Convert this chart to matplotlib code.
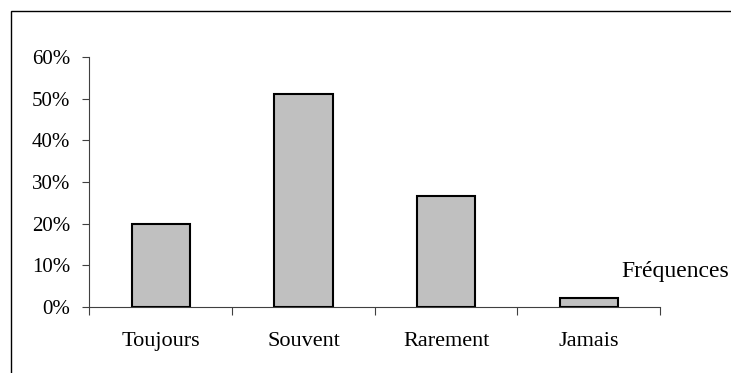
import matplotlib
matplotlib.use('Agg')
import matplotlib.pyplot as plt
from matplotlib.patches import Rectangle
from matplotlib.ticker import FixedLocator, FuncFormatter

categories = ['Toujours', 'Souvent', 'Rarement', 'Jamais']
frequences = [0.200, 0.511, 0.267, 0.022]
yticks = [0.0, 0.1, 0.2, 0.3, 0.4, 0.5, 0.6]

plt.rcParams['font.family'] = ['Liberation Serif', 'DejaVu Serif']

fig = plt.figure(figsize=(7.31, 3.73), dpi=100)
ax = fig.add_axes([0.1224, 0.1778, 0.903 - 0.1224, 0.8464 - 0.1778])

x = list(range(len(categories)))
ax.bar(x, frequences, width=0.41, color='#C0C0C0', edgecolor='black', linewidth=1.5, zorder=3)

ax.set_xlim(-0.5, len(categories) - 0.5)
ax.set_ylim(0, 0.6)

# y axis in percent
ax.set_yticks(yticks)
ax.yaxis.set_major_formatter(FuncFormatter(lambda v, p: f'{v*100:.0f}%'))
ax.tick_params(axis='y', direction='out', length=5, width=0.8, color='#404040', labelsize=15, pad=9)

# x ticks between categories, labels centred on the bars
ax.xaxis.set_major_locator(FixedLocator([i - 0.5 for i in range(len(categories) + 1)]))
ax.xaxis.set_major_formatter(FuncFormatter(lambda v, p: ''))
ax.xaxis.set_minor_locator(FixedLocator(x))
ax.set_xticklabels(categories, minor=True)
ax.tick_params(axis='x', which='major', direction='out', length=6, width=0.8, color='#404040')
ax.tick_params(axis='x', which='minor', length=0, labelsize=16, pad=18)

for side in ['top', 'right']:
    ax.spines[side].set_visible(False)
for side in ['left', 'bottom']:
    ax.spines[side].set_color('#404040')
    ax.spines[side].set_linewidth(0.8)

# legend label without key
fig.text(621 / 731, 1 - 277 / 373, 'Fréquences', fontsize=17, va='baseline', ha='left')

# chart area border, runs off the right and bottom edges
fig.patches.append(Rectangle((11 / 731, -0.1), 1.2, 1 - 11 / 373 + 0.1, transform=fig.transFigure,
                             fill=False, edgecolor='black', linewidth=1.0, clip_on=False))

fig.savefig('out.png', dpi=100)
